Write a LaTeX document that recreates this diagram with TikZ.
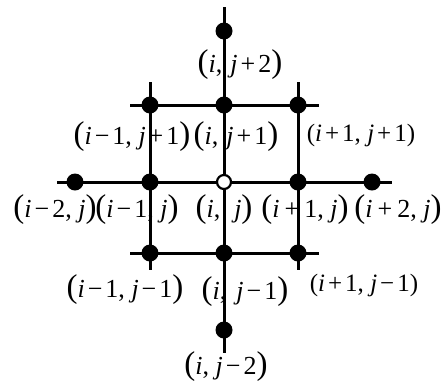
\documentclass[tikz,border=0pt]{standalone}
\usepackage{fontspec}
\setmainfont{Liberation Serif}
\newcommand{\lp}{{\fontsize{33}{33}\selectfont(}}
\newcommand{\rp}{{\fontsize{33}{33}\selectfont)}}
\newcommand{\op}[1]{\hspace{3pt}#1\hspace{3pt}}
\newcommand{\I}{\textit{i}}
\newcommand{\J}{\textit{j}}
\begin{document}
\begin{tikzpicture}[x=1pt,y=-1pt,
  dot/.style={circle,fill=black,inner sep=0pt,minimum size=17pt},
  odot/.style={circle,draw=black,fill=white,line width=2.2pt,inner sep=0pt,minimum size=14pt},
  gline/.style={line width=3pt},
  lbl/.style={inner sep=0pt,font=\fontsize{26}{26}\selectfont}]
\useasboundingbox (0,0) rectangle (444,381);
% line ends
\coordinate (vt) at (224,7);
\coordinate (vb) at (224,353);
\coordinate (hl) at (57,182);
\coordinate (hr) at (392,182);
\coordinate (ul) at (130,105);
\coordinate (ur) at (319,105);
\coordinate (dl) at (130,253);
\coordinate (dr) at (319,253);
\coordinate (lt) at (150,82);
\coordinate (lb) at (150,270);
\coordinate (rt) at (298,82);
\coordinate (rb) at (298,270);
\draw[gline] (vt) -- (vb);
\draw[gline] (hl) -- (hr);
\draw[gline] (ul) -- (ur);
\draw[gline] (dl) -- (dr);
\draw[gline] (lt) -- (lb);
\draw[gline] (rt) -- (rb);
% points
\node[dot] (p02) at (224,31) {};
\node[dot] (pm11) at (150,105) {};
\node[dot] (p01) at (224,105) {};
\node[dot] (p11) at (298,105) {};
\node[dot] (pm20) at (75,182) {};
\node[dot] (pm10) at (150,182) {};
\node[odot] (p00) at (224,182) {};
\node[dot] (p10) at (298,182) {};
\node[dot] (p20) at (372,182) {};
\node[dot] (pm1m1) at (150,253) {};
\node[dot] (p0m1) at (224,253) {};
\node[dot] (p1m1) at (298,253) {};
\node[dot] (p0m2) at (224,330) {};
% labels
\node[lbl] (l02) at (240,65) {\lp\I,\hspace{8pt}\J\op{+}2\rp};
\node[lbl] (lm11) at (132,137) {\lp\I\op{−}1,\ \J\op{+}1\rp};
\node[lbl] (l01) at (236,137) {\lp\I,\hspace{8pt}\J\op{+}1\rp};
\node[lbl,font=\fontsize{25}{25}\selectfont] (l11) at (361,135) {(\I\op{+}1,\ \J\op{+}1)};
\node[lbl] (lm20) at (55,210) {\lp\I\op{−}2,\ \J\rp};
\node[lbl] (lm10) at (137,210) {\lp\I\op{−}1,\ \J\rp};
\node[lbl] (l00) at (224,210) {\lp\I,\hspace{14pt}\J\rp};
\node[lbl] (l10) at (305,210) {\lp\I\hspace{5pt}+\hspace{5pt}1,\ \J\rp};
\node[lbl] (l20) at (398,210) {\lp\I\hspace{5pt}+\hspace{5pt}2,\ \J\rp};
\node[lbl] (lm1m1) at (125,290) {\lp\I\op{−}1,\ \J\op{−}1\rp};
\node[lbl] (l0m1) at (245,292) {\lp\I,\hspace{10pt}\J\op{−}1\rp};
\node[lbl,font=\fontsize{25}{25}\selectfont] (l1m1) at (364,285) {(\I\op{+}1,\ \J\op{−}1)};
\node[lbl] (l0m2) at (226,367) {\lp\I,\ \J\op{−}2\rp};
\end{tikzpicture}
\end{document}
